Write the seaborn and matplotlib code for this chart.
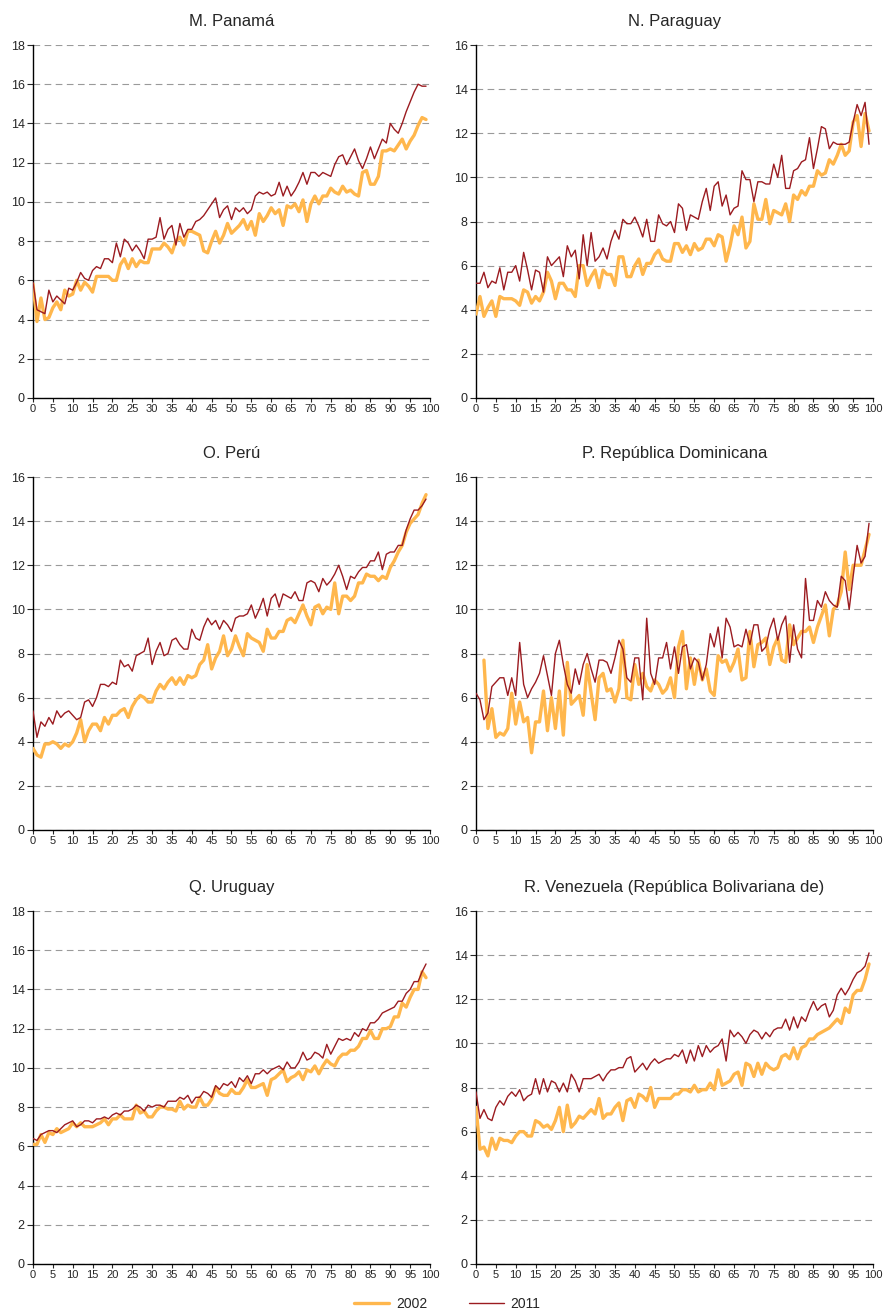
import numpy as np
import pandas as pd
import matplotlib
matplotlib.use('Agg')
import matplotlib.pyplot as plt
import seaborn as sns
from matplotlib.lines import Line2D

sns.set_style('white')
plt.rcParams['font.family'] = ['Liberation Sans', 'DejaVu Sans']

pct = list(range(100))

panama_2002 = [5.8, 3.9, 5.1, 4.0, 4.1, 4.6, 4.9, 4.5, 5.5, 5.2,
               5.3, 6.0, 5.5, 5.9, 5.7, 5.4, 6.2, 6.2, 6.2, 6.2,
               6.0, 6.0, 6.8, 7.1, 6.6, 7.1, 6.7, 7.0, 6.9, 6.9,
               7.6, 7.6, 7.6, 7.9, 7.7, 7.4, 8.0, 8.2, 7.8, 8.5,
               8.5, 8.4, 8.3, 7.5, 7.4, 8.0, 8.5, 7.9, 8.3, 8.9,
               8.4, 8.6, 8.8, 9.1, 8.6, 9.0, 8.3, 9.4, 9.0, 9.3,
               9.7, 9.4, 9.6, 8.8, 9.8, 9.7, 9.9, 9.5, 10.1, 9.0,
               9.9, 10.3, 9.9, 10.3, 10.3, 10.7, 10.5, 10.4, 10.8, 10.5,
               10.6, 10.4, 10.3, 11.5, 11.6, 10.9, 10.9, 11.3, 12.6, 12.6,
               12.7, 12.6, 12.9, 13.2, 12.7, 13.1, 13.4, 13.9, 14.3, 14.2]
panama_2011 = [5.9, 4.5, 4.4, 4.3, 5.5, 4.9, 5.2, 5.0, 4.8, 5.6,
               5.5, 5.9, 6.4, 6.1, 6.0, 6.5, 6.7, 6.6, 7.1, 7.1,
               6.9, 7.9, 7.2, 8.1, 7.9, 7.5, 7.8, 7.5, 7.1, 8.1,
               8.1, 8.2, 9.2, 8.1, 8.6, 8.8, 7.8, 8.9, 8.2, 8.6,
               8.6, 9.0, 9.1, 9.3, 9.6, 9.9, 10.2, 9.2, 9.6, 9.8,
               9.1, 9.7, 9.5, 9.7, 9.4, 9.6, 10.3, 10.5, 10.4, 10.5,
               10.3, 10.4, 11.0, 10.3, 10.8, 10.3, 10.6, 11.0, 11.5, 10.9,
               11.5, 11.5, 11.3, 11.5, 11.4, 11.3, 11.9, 12.3, 12.4, 11.9,
               12.3, 12.7, 12.1, 11.7, 12.2, 12.8, 12.2, 12.7, 13.2, 13.0,
               14.0, 13.7, 13.5, 14.0, 14.6, 15.1, 15.6, 16.0, 15.9, 15.9]

paraguay_2002 = [3.8, 4.6, 3.7, 4.1, 4.4, 3.7, 4.6, 4.5, 4.5, 4.5,
                 4.4, 4.2, 4.9, 4.8, 4.3, 4.6, 4.4, 4.8, 5.7, 5.3,
                 4.5, 5.2, 5.2, 4.9, 4.9, 4.6, 6.0, 6.0, 5.1, 5.5,
                 5.8, 5.0, 5.8, 5.6, 5.6, 5.1, 6.4, 6.4, 5.5, 5.5,
                 6.0, 6.3, 5.6, 6.1, 6.1, 6.5, 6.7, 6.3, 6.2, 6.2,
                 7.0, 7.0, 6.6, 6.9, 6.5, 7.0, 6.7, 6.8, 7.2, 7.2,
                 6.9, 7.4, 7.3, 6.2, 6.9, 7.8, 7.4, 8.2, 6.8, 7.1,
                 8.8, 8.1, 8.1, 9.0, 7.9, 8.5, 8.4, 8.3, 8.8, 8.0,
                 9.2, 9.0, 9.4, 9.2, 9.6, 9.6, 10.3, 10.1, 10.2, 10.8,
                 10.6, 11.0, 11.5, 11.0, 11.2, 12.5, 12.8, 11.4, 12.9, 12.1]
paraguay_2011 = [5.2, 5.2, 5.7, 5.0, 5.3, 5.2, 5.9, 4.9, 5.7, 5.7,
                 6.0, 5.3, 6.6, 5.8, 4.9, 5.8, 5.7, 4.8, 6.4, 6.0,
                 6.2, 6.4, 5.5, 6.9, 6.4, 6.7, 5.4, 7.4, 6.0, 7.5,
                 6.2, 6.4, 6.8, 6.3, 7.1, 7.6, 7.2, 8.1, 7.9, 7.9,
                 8.2, 7.8, 7.3, 8.1, 7.1, 7.1, 8.3, 7.9, 7.8, 8.0,
                 7.5, 8.8, 8.6, 7.6, 8.3, 8.2, 8.1, 8.9, 9.5, 8.5,
                 9.6, 9.8, 8.7, 9.2, 8.3, 8.6, 8.7, 10.3, 9.9, 9.9,
                 8.9, 9.8, 9.8, 9.7, 9.7, 10.6, 10.0, 11.0, 9.5, 9.5,
                 10.3, 10.4, 10.7, 10.8, 11.8, 10.4, 11.3, 12.3, 12.2, 11.3,
                 11.6, 11.5, 11.5, 11.5, 11.6, 12.5, 13.3, 12.8, 13.4, 11.5]

peru_2002 = [3.7, 3.4, 3.3, 3.9, 3.9, 4.0, 3.9, 3.7, 3.9, 3.8,
             4.0, 4.4, 5.0, 4.0, 4.5, 4.8, 4.8, 4.5, 5.1, 4.8,
             5.2, 5.2, 5.4, 5.5, 5.1, 5.6, 5.9, 6.1, 6.0, 5.8,
             5.8, 6.3, 6.6, 6.4, 6.7, 6.9, 6.6, 6.9, 6.6, 7.0,
             6.9, 7.0, 7.5, 7.7, 8.4, 7.3, 7.8, 8.1, 8.8, 7.9,
             8.2, 8.8, 8.3, 7.9, 8.9, 8.7, 8.6, 8.5, 8.1, 9.1,
             8.7, 8.7, 9.0, 9.0, 9.5, 9.6, 9.4, 9.8, 10.2, 9.7,
             9.3, 10.1, 10.2, 9.8, 10.1, 10.0, 11.2, 9.8, 10.6, 10.6,
             10.4, 10.6, 11.2, 11.2, 11.6, 11.5, 11.5, 11.3, 11.5, 11.4,
             11.9, 12.2, 12.6, 12.9, 13.5, 13.9, 14.1, 14.3, 14.8, 15.2]
peru_2011 = [5.4, 4.2, 4.9, 4.7, 5.1, 4.8, 5.4, 5.1, 5.3, 5.4,
             5.2, 5.0, 5.1, 5.8, 5.9, 5.6, 6.0, 6.6, 6.6, 6.5,
             6.7, 6.6, 7.7, 7.4, 7.5, 7.2, 7.9, 8.0, 8.1, 8.7,
             7.5, 8.1, 8.5, 7.9, 8.0, 8.6, 8.7, 8.4, 8.2, 8.2,
             9.1, 8.7, 8.6, 9.2, 9.6, 9.3, 9.5, 9.1, 9.5, 9.3,
             9.0, 9.6, 9.7, 9.7, 9.8, 10.2, 9.6, 10.0, 10.5, 9.7,
             10.5, 10.7, 10.1, 10.7, 10.6, 10.5, 10.8, 10.4, 10.4, 11.2,
             11.3, 11.2, 10.8, 11.4, 11.1, 11.3, 11.6, 12.0, 11.5, 10.9,
             11.5, 11.4, 11.7, 11.9, 11.9, 12.2, 12.2, 12.6, 11.8, 12.5,
             12.6, 12.6, 12.9, 12.9, 13.6, 14.1, 14.5, 14.5, 14.7, 15.0]

dominicana_2002 = [np.nan, np.nan, 7.7, 4.6, 5.5, 4.2, 4.4, 4.3, 4.6, 6.2,
                   4.8, 5.8, 4.9, 5.1, 3.5, 4.9, 4.9, 6.3, 4.5, 6.0,
                   4.6, 6.3, 4.3, 7.6, 5.7, 5.9, 6.1, 5.2, 7.5, 6.2,
                   5.0, 6.9, 7.1, 6.3, 6.4, 5.8, 6.4, 8.6, 6.0, 5.9,
                   7.5, 6.6, 7.1, 6.5, 6.3, 6.8, 6.6, 6.2, 6.4, 6.9,
                   6.0, 8.3, 9.0, 6.4, 7.8, 6.6, 7.7, 6.8, 7.3, 6.3,
                   6.1, 7.9, 7.6, 7.7, 7.2, 7.6, 8.2, 6.8, 6.9, 9.0,
                   7.4, 8.4, 8.5, 8.7, 7.5, 8.3, 8.7, 7.7, 7.6, 9.3,
                   8.4, 8.7, 9.0, 9.0, 9.2, 8.5, 9.2, 9.7, 10.2, 8.8,
                   10.0, 10.2, 10.8, 12.6, 10.9, 12.0, 12.0, 12.0, 12.7, 13.4]
dominicana_2011 = [6.2, 5.9, 5.0, 5.3, 6.5, 6.7, 6.9, 6.9, 6.1, 6.9,
                   6.1, 8.5, 6.6, 6.0, 6.4, 6.7, 7.1, 7.9, 7.0, 6.1,
                   8.0, 8.6, 7.5, 6.6, 6.2, 7.3, 6.6, 7.5, 8.0, 7.3,
                   6.7, 7.7, 7.7, 7.6, 7.1, 7.8, 8.6, 8.2, 6.9, 6.7,
                   7.8, 7.8, 5.9, 9.6, 7.1, 6.6, 7.8, 7.8, 8.5, 7.3,
                   8.3, 7.1, 8.3, 8.4, 7.3, 7.8, 7.6, 6.8, 7.5, 8.9,
                   8.3, 9.2, 7.8, 9.6, 9.2, 8.3, 8.4, 8.3, 9.1, 8.4,
                   9.3, 9.3, 8.1, 8.3, 9.1, 9.6, 8.6, 9.3, 9.7, 7.6,
                   9.3, 8.2, 7.8, 11.4, 9.5, 9.5, 10.4, 10.1, 10.8, 10.4,
                   10.2, 10.1, 11.5, 11.3, 10.0, 11.5, 12.9, 12.1, 12.4, 13.9]

uruguay_2002 = [6.1, 6.1, 6.6, 6.2, 6.7, 6.6, 6.9, 6.7, 6.8, 6.9,
                7.2, 7.0, 7.2, 7.0, 7.0, 7.0, 7.1, 7.2, 7.4, 7.1,
                7.4, 7.4, 7.6, 7.4, 7.4, 7.4, 8.1, 7.7, 7.8, 7.5,
                7.5, 7.8, 8.0, 8.0, 7.9, 7.9, 7.8, 8.3, 7.9, 8.1,
                8.0, 8.0, 8.5, 8.1, 8.1, 8.4, 9.0, 8.7, 8.6, 8.6,
                8.9, 8.7, 8.7, 9.0, 9.4, 9.0, 9.0, 9.1, 9.2, 8.6,
                9.4, 9.5, 9.7, 9.9, 9.3, 9.5, 9.6, 9.8, 9.4, 9.9,
                9.8, 10.1, 9.7, 10.1, 10.4, 10.2, 10.1, 10.5, 10.7, 10.7,
                10.9, 10.9, 11.1, 11.5, 11.5, 11.9, 11.5, 11.5, 12.0, 12.0,
                12.1, 12.6, 12.6, 13.3, 13.1, 13.6, 14.0, 14.0, 14.9, 14.6]
uruguay_2011 = [6.4, 6.3, 6.6, 6.7, 6.8, 6.8, 6.7, 6.9, 7.1, 7.2,
                7.3, 7.0, 7.1, 7.3, 7.3, 7.2, 7.4, 7.4, 7.5, 7.4,
                7.6, 7.7, 7.6, 7.8, 7.8, 7.9, 8.1, 8.0, 7.8, 8.1,
                8.0, 8.1, 8.1, 8.0, 8.3, 8.3, 8.3, 8.5, 8.4, 8.6,
                8.2, 8.5, 8.5, 8.8, 8.7, 8.5, 9.1, 8.9, 9.2, 9.1,
                9.3, 9.0, 9.5, 9.3, 9.6, 9.2, 9.7, 9.7, 9.9, 9.7,
                9.9, 10.0, 10.1, 9.9, 10.3, 10.0, 10.0, 10.3, 10.8, 10.4,
                10.5, 10.8, 10.7, 10.5, 11.2, 10.7, 11.1, 11.5, 11.4, 11.5,
                11.4, 11.8, 11.6, 12.0, 11.9, 12.3, 12.3, 12.5, 12.8, 12.9,
                13.0, 13.1, 13.4, 13.4, 13.8, 14.0, 14.4, 14.4, 14.9, 15.3]

venezuela_2002 = [7.1, 5.2, 5.3, 4.9, 5.7, 5.2, 5.7, 5.6, 5.6, 5.5,
                  5.8, 6.0, 6.0, 5.8, 5.8, 6.5, 6.4, 6.2, 6.3, 6.1,
                  6.5, 7.1, 6.0, 7.2, 6.2, 6.4, 6.7, 6.6, 6.8, 7.0,
                  6.8, 7.5, 6.6, 6.8, 6.8, 7.1, 7.3, 6.5, 7.4, 7.5,
                  7.1, 7.7, 7.6, 7.4, 8.0, 7.1, 7.5, 7.5, 7.5, 7.5,
                  7.7, 7.7, 7.9, 7.9, 7.8, 8.1, 7.8, 7.9, 7.9, 8.2,
                  7.9, 8.8, 8.1, 8.2, 8.3, 8.6, 8.7, 8.1, 9.1, 9.0,
                  8.5, 9.1, 8.6, 9.1, 8.9, 8.8, 8.9, 9.4, 9.5, 9.3,
                  9.8, 9.3, 9.8, 9.9, 10.2, 10.2, 10.4, 10.5, 10.6, 10.7,
                  10.9, 11.1, 10.9, 11.6, 11.4, 12.2, 12.4, 12.4, 12.9, 13.6]
venezuela_2011 = [7.8, 6.6, 7.0, 6.6, 6.5, 7.1, 7.4, 7.2, 7.6, 7.8,
                  7.6, 7.9, 7.4, 7.6, 7.7, 8.4, 7.7, 8.4, 7.8, 8.3,
                  8.2, 7.8, 8.2, 7.8, 8.6, 8.3, 7.8, 8.4, 8.4, 8.4,
                  8.5, 8.6, 8.3, 8.6, 8.8, 8.8, 8.9, 8.9, 9.3, 9.4,
                  8.7, 8.9, 9.1, 8.8, 9.1, 9.3, 9.1, 9.2, 9.3, 9.3,
                  9.5, 9.4, 9.7, 9.1, 9.7, 9.2, 9.9, 9.4, 9.9, 9.6,
                  9.8, 9.9, 10.2, 9.2, 10.6, 10.3, 10.5, 10.3, 10.0, 10.4,
                  10.6, 10.5, 10.2, 10.5, 10.3, 10.6, 10.7, 10.7, 11.1, 10.6,
                  11.2, 10.7, 11.2, 11.0, 11.5, 11.9, 11.5, 11.7, 11.8, 11.2,
                  11.5, 12.2, 12.5, 12.2, 12.5, 12.9, 13.2, 13.3, 13.5, 14.1]

titles = ['M. Panamá', 'N. Paraguay', 'O. Perú', 'P. República Dominicana',
          'Q. Uruguay', 'R. Venezuela (República Bolivariana de)']
series_2002 = [panama_2002, paraguay_2002, peru_2002, dominicana_2002, uruguay_2002, venezuela_2002]
series_2011 = [panama_2011, paraguay_2011, peru_2011, dominicana_2011, uruguay_2011, venezuela_2011]
y_max = [18, 16, 16, 16, 18, 16]

c2002 = '#FFB74D'
c2011 = '#9B1B20'

W, H = 895, 1313
fig = plt.figure(figsize=(W / 100, H / 100), dpi=100)

lefts = [33, 476]
tops = [45, 477, 911]
pw, ph = 397, 353

for i in range(6):
    r, c = i // 2, i % 2
    ax = fig.add_axes([lefts[c] / W, 1 - (tops[r] + ph) / H, pw / W, ph / H])
    df = pd.DataFrame({'pct': pct, 'y2002': series_2002[i], 'y2011': series_2011[i]})
    sns.lineplot(data=df, x='pct', y='y2002', ax=ax, color=c2002, lw=2.4, zorder=3)
    sns.lineplot(data=df, x='pct', y='y2011', ax=ax, color=c2011, lw=1.0, zorder=4)
    ax.set_xlim(0, 100)
    ax.set_ylim(0, y_max[i])
    ax.set_xticks(range(0, 101, 5))
    ax.set_yticks(range(0, y_max[i] + 1, 2))
    ax.tick_params(axis='x', labelsize=8, length=3, width=0.8, pad=1, direction='out', bottom=True)
    ax.tick_params(axis='y', labelsize=9, length=4, width=0.8, pad=2, direction='out', left=True)
    ax.set_xlabel('')
    ax.set_ylabel('')
    for s in ['top', 'right']:
        ax.spines[s].set_visible(False)
    for s in ['left', 'bottom']:
        ax.spines[s].set_color('black')
        ax.spines[s].set_linewidth(1.0)
    ax.yaxis.grid(True, color='#9a9a9a', linestyle=(0, (6, 4)), linewidth=0.8)
    ax.xaxis.grid(False)
    ax.set_axisbelow(True)
    ax.set_title(titles[i], fontsize=12, pad=14)

handles = [Line2D([], [], color=c2002, lw=2.4), Line2D([], [], color=c2011, lw=1.0)]
fig.legend(handles, ['2002', '2011'], loc='center', bbox_to_anchor=(0.5, 1 - 1304 / H),
           ncol=2, frameon=False, fontsize=10, handlelength=2.5, columnspacing=3.0,
           handletextpad=0.5)

fig.savefig('out.png', dpi=100)
